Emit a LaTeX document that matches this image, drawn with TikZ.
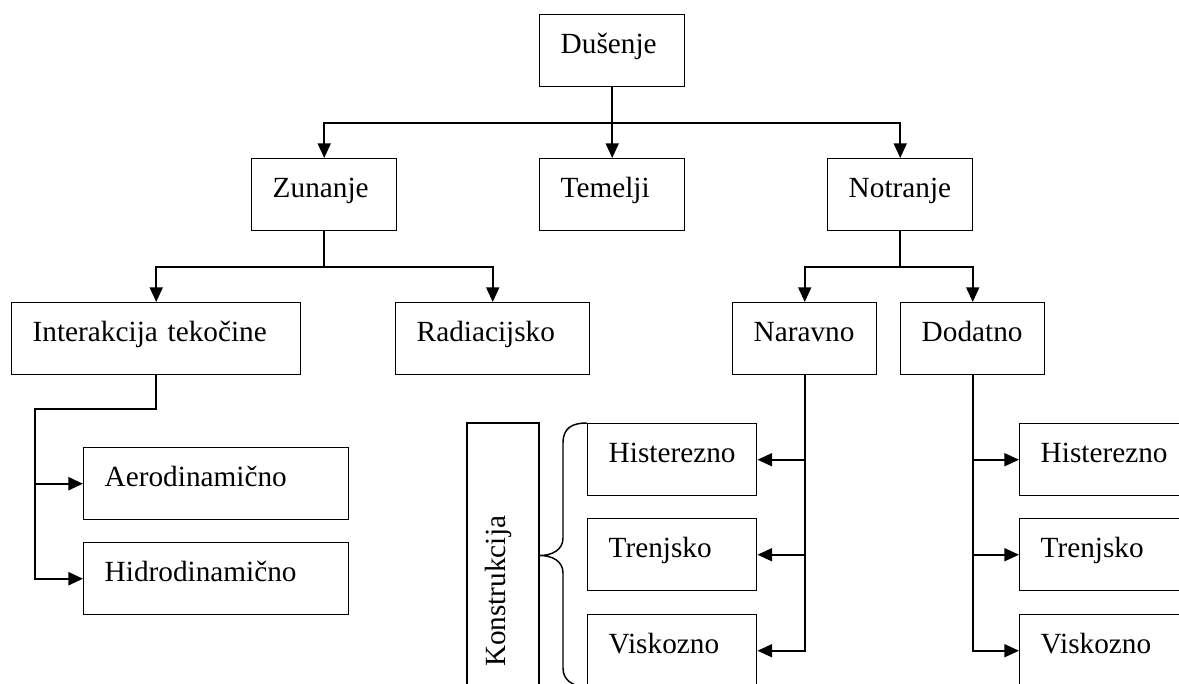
\documentclass[tikz,border=0pt]{standalone}
\usepackage{fontspec}
\setmainfont{Liberation Serif}
\usetikzlibrary{arrows.meta, positioning}
\newcommand{\pxu}{0.41pt}
\tikzset{
  blok/.style={draw, line width=0.6pt, anchor=north west, align=left,
    inner xsep=21*\pxu, inner ysep=0pt, minimum height=72*\pxu,
    text width=#1*\pxu-42*\pxu, text height=8.5pt, text depth=6.4pt,
    font=\fontsize{12pt}{14pt}\selectfont},
  spoj/.style={line width=0.8pt, -{Triangle[length=6pt, width=5.3pt]}},
  crta/.style={line width=0.6pt}
}

\begin{document}
\begin{tikzpicture}[x=\pxu, y=-\pxu]
  \useasboundingbox (0,0) rectangle (1179,684);
  \clip (0,0) rectangle (1179,684);

  \node[blok=145] (dus) at (539,14) {Dušenje};
  \node[blok=145] (zun) at (251,158) {Zunanje};
  \node[blok=145] (tem) at (539,158) {Temelji};
  \node[blok=145] (notr) at (827,158) {Notranje};
  \node[blok=289] (int) at (11,302) {Interakcija tekočine};
  \node[blok=194] (rad) at (395,302) {Radiacijsko};
  \node[blok=144] (nar) at (732,302) {Naravno};
  \node[blok=144] (dod) at (900,302) {Dodatno};
  \node[blok=265] (aer) at (83,447) {Aerodinamično};
  \node[blok=265] (hid) at (83,542) {Hidrodinamično};
  \node[blok=169] (his) at (587,423) {Histerezno};
  \node[blok=169] (tre) at (587,518) {Trenjsko};
  \node[blok=169] (vis) at (587,614) {Viskozno};
  \node[blok=169] (hisd) at (1019,423) {Histerezno};
  \node[blok=169] (tred) at (1019,518) {Trenjsko};
  \node[blok=169] (visd) at (1019,614) {Viskozno};
  \node[blok=265, anchor=center, rotate=90] (kon) at (503,555.5) {Konstrukcija};

  \draw[spoj] (dus.south) -- (tem.north);
  \draw[spoj] (dus.south) -- ++(0,36) -| (zun.north);
  \draw[spoj] (dus.south) -- ++(0,36) -| (notr.north);
  \draw[spoj] (zun.south) -- ++(0,36) -| (int.north);
  \draw[spoj] (zun.south) -- ++(0,36) -| (rad.north);
  \draw[spoj] (notr.south) -- ++(0,36) -| (nar.north);
  \draw[spoj] (notr.south) -- ++(0,36) -| (dod.north);

  \coordinate (kol) at (35,409);
  \draw[spoj, line width=1pt] (int.south) |- (kol) |- (aer.west);
  \draw[spoj, line width=1pt] (kol) |- (hid.west);

  \draw[spoj] (nar.south) |- (his.east);
  \draw[spoj] (nar.south) |- (tre.east);
  \draw[spoj] (nar.south) |- (vis.east);
  \draw[spoj] (dod.south) |- (hisd.west);
  \draw[spoj] (dod.south) |- (tred.west);
  \draw[spoj] (dod.south) |- (visd.west);

  \draw[crta] (his.north west) .. controls (572,423) and (563,428) .. (563,443)
    -- (563,538) .. controls (563,550) and (552,555.5) .. (kon.south)
    .. controls (552,555.5) and (563,561) .. (563,573)
    -- (563,668) .. controls (563,680) and (572,686) .. (vis.south west);
\end{tikzpicture}
\end{document}
